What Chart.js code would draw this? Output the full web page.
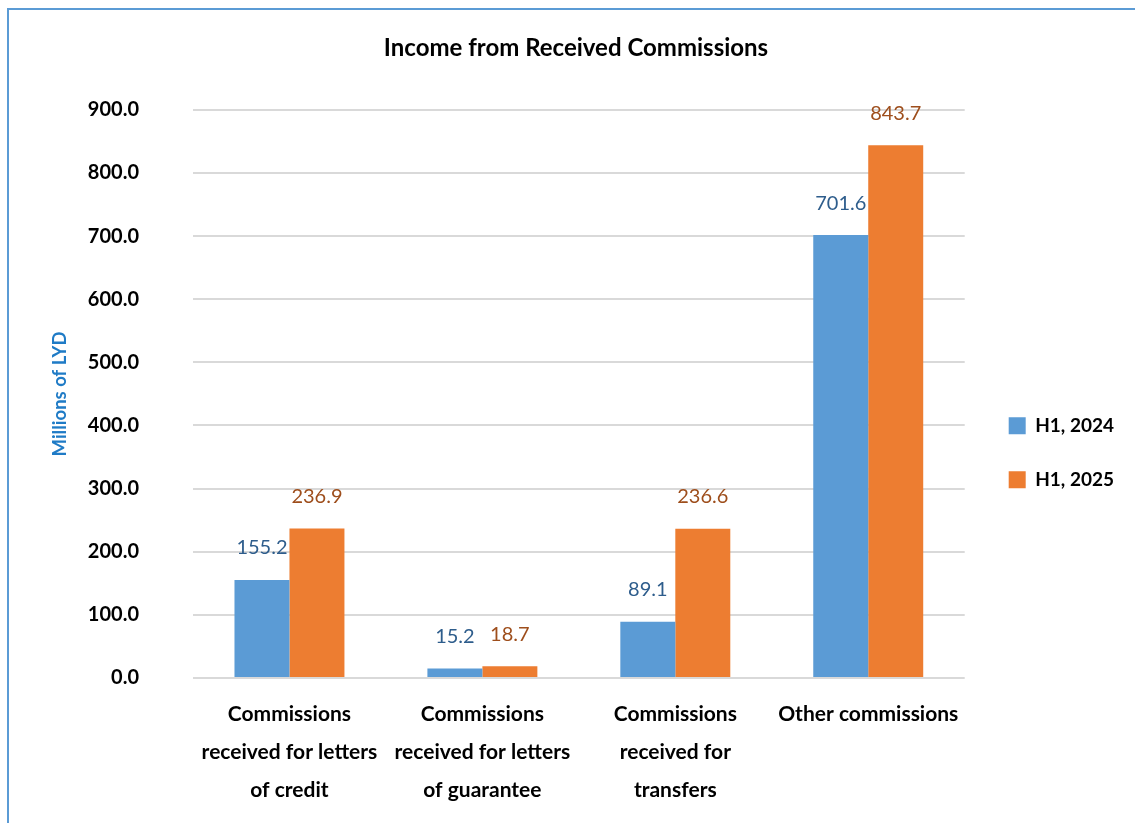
<!DOCTYPE html>
<html>
<head>
<meta charset="utf-8">
<title>Income from Received Commissions</title>
<script src="https://cdn.jsdelivr.net/npm/chart.js@4/dist/chart.umd.min.js"></script>
<style>
  html, body { margin: 0; padding: 0; background: #fff; }
  #wrap { position: relative; width: 1135px; height: 823px; overflow: hidden; }
  /* frame line along the top and left edge */
  #frame { position: absolute; left: 7px; top: 8px; width: 1200px; height: 900px;
           border-left: 2px solid #5B9BD5; border-top: 2px solid #5B9BD5; }
  #myChart { position: absolute; left: 0; top: 0; }
</style>
</head>
<body>
<div id="wrap">
  <div id="frame"></div>
  <canvas id="myChart" width="1135" height="823"></canvas>
</div>
<script>
//categories, one array of lines per label
let categories = [
  ["Commissions", "received for letters", "of credit"],
  ["Commissions", "received for letters", "of guarantee"],
  ["Commissions", "received for", "transfers"],
  ["Other commissions"],
];
let seriesNames = ["H1, 2024", "H1, 2025"];
let h1_2024 = [155.2, 15.2, 89.1, 701.6];
let h1_2025 = [236.9, 18.7, 236.6, 843.7];
let yTicks = [0, 100, 200, 300, 400, 500, 600, 700, 800, 900];

let barColor = ["#5B9BD5", "#ED7D31"],
  labelColor = ["#2E5D8C", "#9E4E1C"];

Chart.defaults.font.family = "Lato, 'Open Sans', sans-serif";
Chart.defaults.color = "#000";

//value labels above every bar
const barValues = {
  id: "barValues",
  afterDatasetsDraw(chart) {
    const ctx = chart.ctx;
    ctx.save();
    ctx.font = "400 20px Lato, 'Open Sans', sans-serif";
    ctx.textAlign = "center";
    ctx.textBaseline = "middle";
    chart.data.datasets.forEach((ds, i) => {
      ctx.fillStyle = labelColor[i];
      chart.getDatasetMeta(i).data.forEach((bar, j) => {
        ctx.fillText(ds.data[j].toFixed(1), bar.x, bar.y - 32);
      });
    });
    ctx.restore();
  },
};

let ctx = document.getElementById("myChart").getContext("2d");
let myChart = new Chart(ctx, {
  type: "bar",
  data: {
    labels: categories,
    datasets: [
      {
        label: seriesNames[0],
        data: h1_2024,
        backgroundColor: barColor[0],
        categoryPercentage: 0.57,
        barPercentage: 1.0,
      },
      {
        label: seriesNames[1],
        data: h1_2025,
        backgroundColor: barColor[1],
        categoryPercentage: 0.57,
        barPercentage: 1.0,
      },
    ],
  },
  options: {
    responsive: false,
    animation: false,
    devicePixelRatio: 1,
    layout: { padding: { left: 28, right: 11, top: 0, bottom: 14 } },
    plugins: {
      title: {
        display: true,
        text: "Income from Received Commissions",
        font: { size: 24, weight: "bold" },
        color: "#000",
        padding: { top: 34, bottom: 47 },
      },
      legend: {
        position: "right",
        // empty title only pushes the two entries down to mid height
        title: { display: true, text: "", padding: 41 },
        labels: {
          boxWidth: 17,
          boxHeight: 17,
          padding: 35,
          font: { size: 19, weight: "bold" },
          color: "#000",
        },
      },
      tooltip: { enabled: false },
    },
    scales: {
      x: {
        grid: { display: false, drawTicks: false },
        border: { display: false },
        afterFit: (scale) => {
          scale.height = 131;
        },
        ticks: {
          maxRotation: 0,
          autoSkip: false,
          padding: 17,
          font: { size: 21, weight: "bold", lineHeight: 1.81 },
          color: "#000",
        },
      },
      y: {
        min: 0,
        max: 900,
        afterBuildTicks: (scale) => {
          scale.ticks = yTicks.map((v) => ({ value: v }));
        },
        afterFit: (scale) => {
          scale.width = 165;
        },
        grid: { color: "#D9D9D9", lineWidth: 2, drawTicks: false },
        border: { display: false },
        ticks: {
          padding: 54,
          font: { size: 20, weight: "bold" },
          color: "#000",
          callback: (v) => Number(v).toFixed(1),
        },
        title: {
          display: true,
          text: "Millions of LYD",
          color: "#1F7BC6",
          font: { size: 18.5, weight: "bold" },
          padding: { top: 21, bottom: 0 },
        },
      },
      // blank strip between the plot and the legend
      gap: {
        type: "linear",
        position: "right",
        display: true,
        grid: { display: false, drawTicks: false },
        border: { display: false },
        ticks: { display: false },
        afterFit: (scale) => {
          scale.width = 9;
        },
      },
    },
  },
  plugins: [barValues],
});
</script>
</body>
</html>
